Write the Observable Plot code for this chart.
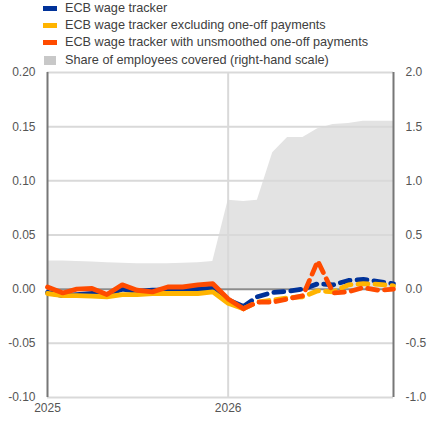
<!DOCTYPE html>
<html>
<head>
<meta charset="utf-8">
<script src="https://cdn.jsdelivr.net/npm/d3@7"></script>
<script src="https://cdn.jsdelivr.net/npm/@observablehq/plot@0.6"></script>
<style>
  html, body { margin: 0; padding: 0; background: #fff; }
  body { width: 433px; height: 422px; overflow: hidden; font-family: "Liberation Sans", Arial, sans-serif; }
  #legend { position: relative; height: 66px; }
  .row { position: absolute; left: 0; height: 17px; width: 433px; }
  .sw { position: absolute; left: 43px; width: 14px; }
  .lbl { position: absolute; left: 65px; font-size: 12.7px; color: #404040; line-height: 17px; top: 0; white-space: nowrap; }
</style>
</head>
<body>
<div id="legend"></div>
<div id="chart"></div>
<script>
const months = ["2025-01","2025-02","2025-03","2025-04","2025-05","2025-06","2025-07","2025-08","2025-09","2025-10","2025-11","2025-12",
                "2026-01","2026-02","2026-03","2026-04","2026-05","2026-06","2026-07","2026-08","2026-09","2026-10","2026-11","2026-12"];
const tracker     = [-0.003,-0.006,-0.005,-0.004,-0.005, 0.000,-0.002,-0.001,-0.001,-0.001, 0.000, 0.001,
                     -0.010,-0.016,-0.007,-0.003,-0.002, 0.000, 0.005, 0.004, 0.008, 0.009, 0.007, 0.005];
const excluding   = [-0.004,-0.006,-0.006,-0.0065,-0.007,-0.005,-0.005,-0.004,-0.004,-0.004,-0.004,-0.0025,
                     -0.013,-0.018,-0.012,-0.010,-0.008,-0.007,-0.0015,-0.0025, 0.004, 0.005, 0.0045, 0.003];
const unsmoothed  = [ 0.002,-0.0035, 0.000, 0.0006,-0.005, 0.004,-0.001,-0.0025, 0.002, 0.002, 0.004, 0.005,
                     -0.009,-0.018,-0.012,-0.012,-0.009,-0.006, 0.026,-0.0035,-0.0025, 0.0015,-0.001, 0.000];
const share       = [0.26,0.26,0.255,0.25,0.245,0.24,0.235,0.235,0.235,0.24,0.245,0.255,
                     0.82,0.81,0.82,1.26,1.40,1.40,1.48,1.52,1.53,1.55,1.55,1.55];
const leftTicks = [-0.10,-0.05,0.00,0.05,0.10,0.15,0.20];
const yearTicks = ["2025-01","2026-01"];
const lastSolid = "2026-02";

const seriesNames = ["ECB wage tracker","ECB wage tracker excluding one-off payments","ECB wage tracker with unsmoothed one-off payments"];
const seriesColors = ["#003299","#ffb400","#ff4b00"];
const shareName = "Share of employees covered (right-hand scale)";

const parse = d3.utcParse("%Y-%m");
const dates = months.map(parse);
const splitIdx = months.indexOf(lastSolid);
const seriesValues = [tracker, excluding, unsmoothed];

// legend
const legend = document.getElementById("legend");
const items = seriesNames.map((n,i)=>({name:n,color:seriesColors[i],kind:"line"})).concat([{name:shareName,color:"#c8c8c8",kind:"box"}]);
items.forEach((it,i)=>{
  const row = document.createElement("div");
  row.className = "row";
  row.style.top = (i*17.2) + "px";
  const sw = document.createElement("div");
  sw.className = "sw";
  sw.style.background = it.color;
  if (it.kind === "line") { sw.style.height = "5px"; sw.style.top = "6px"; }
  else { sw.style.height = "9px"; sw.style.top = "4px"; sw.style.left="44px"; sw.style.width="12px"; }
  const lb = document.createElement("div");
  lb.className = "lbl";
  lb.textContent = it.name;
  row.appendChild(sw); row.appendChild(lb);
  legend.appendChild(row);
});

const areaData = dates.map((d,i)=>({date:d, share: share[i]}));
const lineMarks = [];
seriesValues.forEach((vals,k)=>{
  const rows = dates.map((d,i)=>({date:d, v: vals[i]}));
  lineMarks.push(Plot.line(rows.slice(0, splitIdx+1), {x:"date", y:"v", stroke: seriesColors[k], strokeWidth: 4.8}));
  lineMarks.push(Plot.line(rows.slice(splitIdx), {x:"date", y:"v", stroke: seriesColors[k], strokeWidth: 4.8, strokeDasharray: "10,7"}));
});

const chart = Plot.plot({
  width: 433,
  height: 356,
  marginTop: 6,
  marginBottom: 25,
  marginLeft: 47,
  marginRight: 40,
  style: {fontFamily: "'Liberation Sans', Arial, sans-serif", fontSize: "12px", color: "#555", background: "#fff", overflow: "visible"},
  x: {type: "utc", domain: [dates[0], dates[dates.length-1]]},
  y: {domain: [-0.10, 0.20]},
  marks: [
    Plot.areaY(areaData, {x: "date", y1: 0, y2: d => d.share/10, fill: "#e3e3e3"}),
    Plot.ruleY(leftTicks.filter(t => t !== 0), {stroke: "#d9d9d9", strokeWidth: 2}),
    Plot.ruleX([parse(yearTicks[1])], {stroke: "#d9d9d9", strokeWidth: 2}),
    Plot.ruleY([0], {stroke: "#8c8c8c", strokeWidth: 2}),
    Plot.ruleX([dates[0], dates[dates.length-1]], {stroke: "#777", strokeWidth: 2}),
    Plot.axisY({anchor: "left", ticks: leftTicks, tickFormat: d => d.toFixed(2), tickSize: 0, tickPadding: 12, label: null, fill: "#555"}),
    Plot.axisY({anchor: "right", ticks: leftTicks, tickFormat: d => (d*10).toFixed(1), tickSize: 0, tickPadding: 12, label: null, fill: "#555"}),
    Plot.axisX({ticks: yearTicks.map(parse), tickFormat: d3.utcFormat("%Y"), tickSize: 0, tickPadding: 6, label: null, fill: "#555"}),
    ...lineMarks
  ]
});
document.getElementById("chart").appendChild(chart);
</script>
</body>
</html>
